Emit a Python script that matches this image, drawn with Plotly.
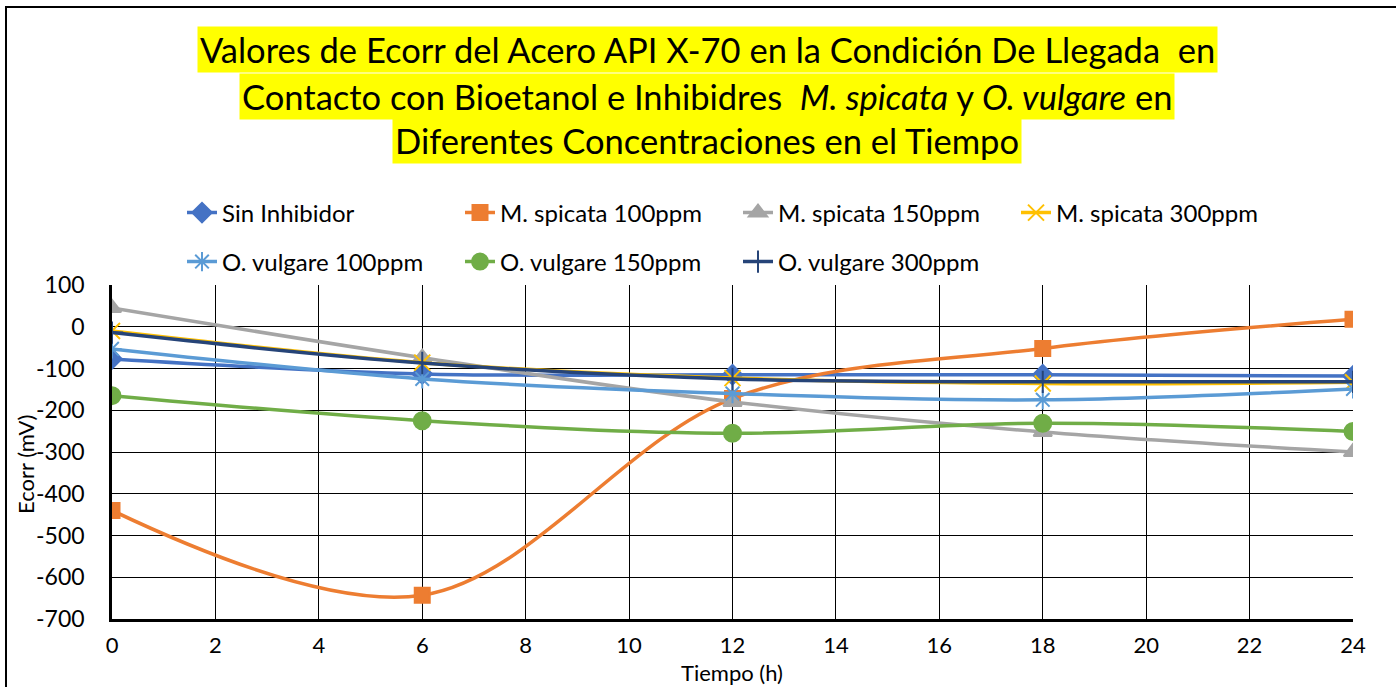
import plotly.graph_objects as go

tiempo = [0, 6, 12, 18, 24]
sin_inhibidor = [-77, -113, -115, -115, -118]
ms_100 = [-440, -643, -172, -52, 18]
ms_150 = [45, -74, -180, -252, -300]
ms_300 = [-10, -86, -123, -136, -133]
ov_100 = [-53, -125, -160, -175, -149]
ov_150 = [-165, -225, -255, -231, -251]
ov_300 = [-14, -87, -125, -132, -132]

x_ticks = list(range(0, 25, 2))
y_ticks = list(range(-700, 101, 100))

FONT = "Lato"
W, H = 1396, 687
L, R, T, B = 112, 1353, 285, 619

def px(x):
    return (x - L) / (R - L)

def py(y):
    return (B - y) / (B - T)

series = [
    ("Sin Inhibidor", sin_inhibidor, "#4472C4", "diamond", 15, "legend"),
    ("M. spicata 100ppm", ms_100, "#ED7D31", "square", 15, "legend"),
    ("M. spicata 150ppm", ms_150, "#A5A5A5", "triangle-up", 16, "legend"),
    ("M. spicata 300ppm", ms_300, "#FFC000", "x-thin-open", 16, "legend"),
    ("O. vulgare 100ppm", ov_100, "#5B9BD5", "asterisk-open", 16, "legend2"),
    ("O. vulgare 150ppm", ov_150, "#70AD47", "circle", 17, "legend2"),
    ("O. vulgare 300ppm", ov_300, "#264478", "cross-thin-open", 16, "legend2"),
]

fig = go.Figure()
for name, vals, color, sym, size, leg in series:
    fig.add_trace(go.Scatter(
        x=tiempo, y=vals, name=name, mode="lines+markers",
        line=dict(color=color, width=3.5, shape="spline", smoothing=1.0),
        marker=dict(symbol=sym, size=size, color=color,
                    line=dict(color=color, width=2)),
        legend=leg,
    ))

tick_font = dict(family=FONT, size=23, color="black")
xtick_font = dict(family=FONT, size=22, color="black")
leg_font = dict(family=FONT, size=24, color="black")
fig.update_layout(
    width=W, height=H,
    margin=dict(l=L, r=W - R, t=T, b=H - B, autoexpand=False),
    paper_bgcolor="white", plot_bgcolor="white",
    font=dict(family=FONT, size=20, color="black"),
    showlegend=True,
    legend=dict(orientation="h", x=px(182), y=py(213), xanchor="left", yanchor="middle",
                entrywidth=233, entrywidthmode="pixels", font=leg_font,
                bgcolor="rgba(0,0,0,0)", itemwidth=30),
    legend2=dict(orientation="h", x=px(182), y=py(262), xanchor="left", yanchor="middle",
                 entrywidth=233, entrywidthmode="pixels", font=leg_font,
                 bgcolor="rgba(0,0,0,0)", itemwidth=30),
    xaxis=dict(range=[0, 24], tickvals=x_ticks, ticktext=[str(v) for v in x_ticks],
               showgrid=True, gridcolor="black", gridwidth=1.4,
               showline=True, linecolor="black", linewidth=2.5, zeroline=False,
               ticks="", tickfont=xtick_font, ticklabelstandoff=5),
    yaxis=dict(range=[-700, 100], tickvals=y_ticks, ticktext=[str(v) for v in y_ticks],
               showgrid=True, gridcolor="black", gridwidth=1.4,
               showline=True, linecolor="black", linewidth=2.5, zeroline=False,
               ticks="", tickfont=tick_font, ticklabelstandoff=20),
)

title_lines = [
    ("Valores de Ecorr del Acero API X-70 en la Condición De Llegada  en", 50),
    ("Contacto con Bioetanol e Inhibidres  <i>M. spicata</i> y <i>O. vulgare</i> en", 96),
    ("Diferentes Concentraciones en el Tiempo", 141),
]
for txt, yy in title_lines:
    fig.add_annotation(text=txt, x=px(707), y=py(yy), xref="paper", yref="paper",
                       xanchor="center", yanchor="middle", showarrow=False,
                       bgcolor="#FFFF00", borderpad=2,
                       font=dict(family=FONT, size=34.5, color="black"))

fig.add_annotation(text="Ecorr (mV)", x=px(25), y=py(465), xref="paper", yref="paper",
                   xanchor="center", yanchor="middle", showarrow=False, textangle=-90,
                   font=dict(family=FONT, size=22, color="black"))
fig.add_annotation(text="Tiempo (h)", x=px(732), y=py(672), xref="paper", yref="paper",
                   xanchor="center", yanchor="middle", showarrow=False, borderpad=0,
                   font=dict(family=FONT, size=22, color="black"))

fig.add_shape(type="rect", xref="paper", yref="paper",
              x0=px(6), x1=px(1420), y0=py(720), y1=py(7),
              line=dict(color="black", width=2), fillcolor="rgba(0,0,0,0)", layer="below")

fig.write_html("out.html")
